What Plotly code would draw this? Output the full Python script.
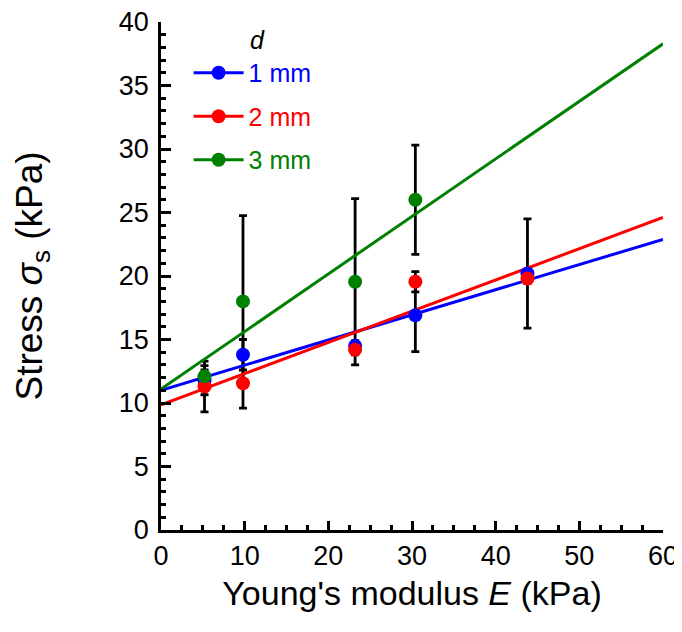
import plotly.graph_objects as go

# ---- data ----
E_vals = [5.2, 9.8, 23.2, 30.4, 43.8]           # Young's modulus (kPa)
E_vals_3mm = [5.2, 9.8, 23.2, 30.4]

stress_1mm = [11.8, 13.8, 14.5, 16.9, 20.2]
err_1mm = [1.15, 1.2, 0.4, 2.85, 4.3]

stress_2mm = [11.3, 11.55, 14.2, 19.55, 19.8]
err_2mm = [2.0, 1.95, 0.4, 0.8, 0.4]

stress_3mm = [12.1, 18.0, 19.55, 26.0]
err_3mm = [0.5, 6.75, 6.55, 4.3]

series_names = ["1 mm", "2 mm", "3 mm"]
series_colors = ["#0000FF", "#FF0000", "#008000"]

# linear fit lines (intercept, slope)
fit_intercept = [11.0, 9.85, 11.1]
fit_slope = [0.198, 0.246, 0.453]
fit_range = [0, 60]

x_ticks = [0, 10, 20, 30, 40, 50, 60]
y_ticks = [0, 5, 10, 15, 20, 25, 30, 35, 40]

FONT = "Arial, Liberation Sans, sans-serif"

xs = [E_vals, E_vals, E_vals_3mm]
ys = [stress_1mm, stress_2mm, stress_3mm]
errs = [err_1mm, err_2mm, err_3mm]

fig = go.Figure()

# error bars (black), drawn first so markers sit on top
for x, y, e in zip(xs, ys, errs):
    fig.add_trace(go.Scatter(
        x=x, y=y, mode="markers",
        marker=dict(size=14, color="rgba(0,0,0,0)"),
        error_y=dict(type="data", array=e, visible=True,
                     color="black", thickness=2.8, width=4),
        showlegend=False, hoverinfo="skip"))

# fit lines
for b, m, c in zip(fit_intercept, fit_slope, series_colors):
    fig.add_trace(go.Scatter(
        x=fit_range, y=[b + m * fit_range[0], b + m * fit_range[1]],
        mode="lines", line=dict(color=c, width=3),
        showlegend=False, hoverinfo="skip"))

# data markers
for x, y, c in zip(xs, ys, series_colors):
    fig.add_trace(go.Scatter(
        x=x, y=y, mode="markers",
        marker=dict(size=14, color=c),
        showlegend=False))

# legend entries
for i, (n, c) in enumerate(zip(series_names, series_colors)):
    fig.add_trace(go.Scatter(
        x=[None], y=[None], mode="lines+markers",
        name=f"<span style='color:{c}'>{n}</span>",
        legendgroup=f"g{i}",
        line=dict(color=c, width=3),
        marker=dict(size=14, color=c)))

fig.add_annotation(
    text="<i>d</i>", x=0.193, y=0.965, xref="paper", yref="paper",
    xanchor="center", yanchor="middle", showarrow=False,
    font=dict(family=FONT, size=25, color="black"))

# page body has an 8px margin, so the figure is sized to end at the window edge
fig.update_layout(
    width=674, height=624,
    margin=dict(l=153, r=19, t=14, b=102),
    plot_bgcolor="white", paper_bgcolor="white",
    font=dict(family=FONT, color="black"),
    legend=dict(
        x=0.055, y=0.945, xanchor="left", yanchor="top",
        bgcolor="rgba(0,0,0,0)", borderwidth=0,
        font=dict(family=FONT, size=25),
        tracegroupgap=8, traceorder="grouped", itemwidth=50),
    xaxis=dict(
        range=[0, 60], tickvals=x_ticks, showgrid=False, zeroline=False,
        automargin=False, ticklabeloverflow="allow",
        showline=True, linecolor="black", linewidth=2.5,
        ticks="inside", ticklen=9, tickwidth=2.5, tickcolor="black",
        minor=dict(dtick=2.5, ticks="inside", ticklen=5, tickwidth=2.5, tickcolor="black"),
        tickfont=dict(family=FONT, size=27), ticklabelstandoff=0,
        title=dict(text="Young's modulus <i>E</i> (kPa)",
                   font=dict(family=FONT, size=34), standoff=12)),
    yaxis=dict(
        range=[0, 40], tickvals=y_ticks, showgrid=False, zeroline=False,
        automargin=False, ticklabeloverflow="allow",
        showline=True, linecolor="black", linewidth=2.5,
        ticks="inside", ticklen=10, tickwidth=2.5, tickcolor="black",
        minor=dict(dtick=1, ticks="inside", ticklen=5, tickwidth=2.5, tickcolor="black"),
        tickfont=dict(family=FONT, size=27), ticklabelstandoff=4,
        title=dict(text="Stress <i>σ</i><sub>s</sub> (kPa)",
                   font=dict(family=FONT, size=37), standoff=65)),
)

fig.write_html("out.html")
